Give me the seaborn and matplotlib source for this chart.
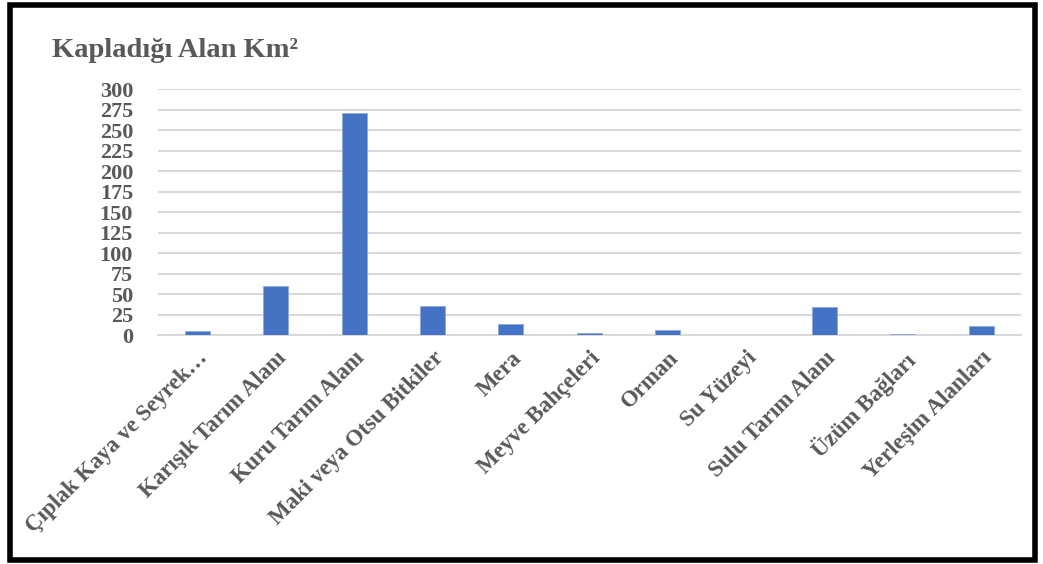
import matplotlib
matplotlib.use("Agg")
import matplotlib.pyplot as plt
import matplotlib.patches as patches
import pandas as pd
import seaborn as sns

# Data
categories = [
    "Çıplak Kaya ve Seyrek…",
    "Karışık Tarım Alanı",
    "Kuru Tarım Alanı",
    "Maki veya Otsu Bitkiler",
    "Mera",
    "Meyve Bahçeleri",
    "Orman",
    "Su Yüzeyi",
    "Sulu Tarım Alanı",
    "Üzüm Bağları",
    "Yerleşim Alanları",
]
area_km2 = [5, 59.5, 271, 35.5, 13, 3, 6.5, 0.5, 34.5, 1.5, 11.5]
y_ticks = list(range(0, 301, 25))

df = pd.DataFrame({"category": categories, "area": area_km2})

sns.set_theme(style="white")
plt.rcParams["font.family"] = ["Liberation Serif", "DejaVu Serif"]

TEXT = "#595959"
BAR = "#4472C4"
GRID = "#D9D9D9"

fig = plt.figure(figsize=(10.43, 5.64), dpi=100)
ax = fig.add_axes([0.1515, 0.406, 0.827, 0.436])

sns.barplot(data=df, x="category", y="area", color=BAR, width=0.32,
            saturation=1, edgecolor="#8FAADC", linewidth=0.6, ax=ax, zorder=3)

ax.set_ylim(0, 300)
ax.set_yticks(y_ticks)
ax.set_yticklabels([str(t) for t in y_ticks], fontsize=16, fontweight="bold", color=TEXT)
ax.set_xticks(range(len(categories)))
ax.set_xticklabels(categories, rotation=45, ha="right", rotation_mode="anchor",
                   fontsize=16.5, fontweight="bold", color=TEXT)
ax.tick_params(axis="both", length=0)
ax.tick_params(axis="y", pad=18)
ax.tick_params(axis="x", pad=9)
ax.set_xlabel("")
ax.set_ylabel("")
ax.yaxis.grid(True, color=GRID, lw=1.5, zorder=0)
ax.set_axisbelow(True)
for s in ["top", "right", "left"]:
    ax.spines[s].set_visible(False)
ax.spines["bottom"].set_color(GRID)
ax.spines["bottom"].set_linewidth(1.5)

fig.text(0.05, 0.91, "Kapladığı Alan Km²", fontsize=20.5, fontweight="bold",
         color=TEXT, ha="left", va="center")

# thick black frame around the figure
fig.add_artist(patches.Rectangle((0.0095, 0.0075), 0.983, 0.984,
                                 transform=fig.transFigure, fill=False,
                                 lw=4, ec="black"))

fig.savefig("out.png", dpi=100)
